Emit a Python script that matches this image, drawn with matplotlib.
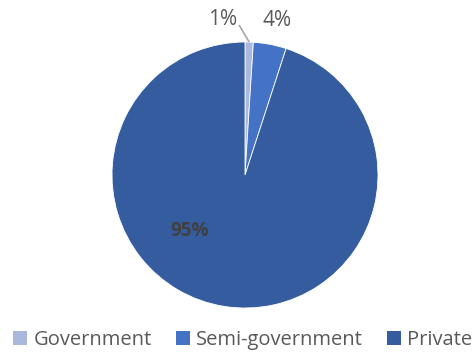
import numpy as np
import matplotlib.pyplot as plt
from matplotlib.patches import Patch

# Share of establishments by sector
sectors = ['Government', 'Semi-government', 'Private']
shares = [1, 4, 95]
colours = ['#A9B8DC', '#4472C4', '#345C9F']

plt.rcParams['font.family'] = ['Open Sans', 'DejaVu Sans']

fig = plt.figure(figsize=(4.74, 3.56), dpi=100)
ax = fig.add_axes([0.2363, 0.1348, 0.5612, 0.7472])

wedges, _ = ax.pie(shares, colors=colours, startangle=90, counterclock=False,
                   radius=1.0, wedgeprops=dict(edgecolor='white', linewidth=0.6))
ax.set_xlim(-1, 1)
ax.set_ylim(-1, 1)
ax.set_aspect('equal')
ax.axis('off')

# Labels for the two thin slices sit outside, the big one inside
for w, s in zip(wedges, shares):
    mid = np.deg2rad((w.theta1 + w.theta2) / 2.)
    edge = (np.cos(mid), np.sin(mid))
    if s == 1:
        ax.text(-0.17, 1.17, '{}%'.format(s), ha='center', va='center',
                fontsize=15, color='#595959')
        # leader line from the label down to the slice
        ax.plot([-0.045, edge[0]], [1.128, edge[1]], color='#A6A6A6', lw=1.2,
                solid_capstyle='butt', clip_on=False)
    elif s == 4:
        ax.text(0.24, 1.165, '{}%'.format(s), ha='center', va='center',
                fontsize=15, color='#595959')
    else:
        ax.text(-0.42, -0.42, '{}%'.format(s),
                ha='center', va='center', fontsize=13.5, fontweight='bold',
                color='#404040')

handles = [Patch(facecolor=c, edgecolor='none') for c in colours]
fig.legend(handles, sectors, loc='lower center', bbox_to_anchor=(0.512, -0.035),
           ncol=3, frameon=False, fontsize=14.5, handlelength=0.7,
           handleheight=0.7, handletextpad=0.3, columnspacing=1.2,
           labelcolor='#595959')

fig.savefig('out.png', dpi=100)
